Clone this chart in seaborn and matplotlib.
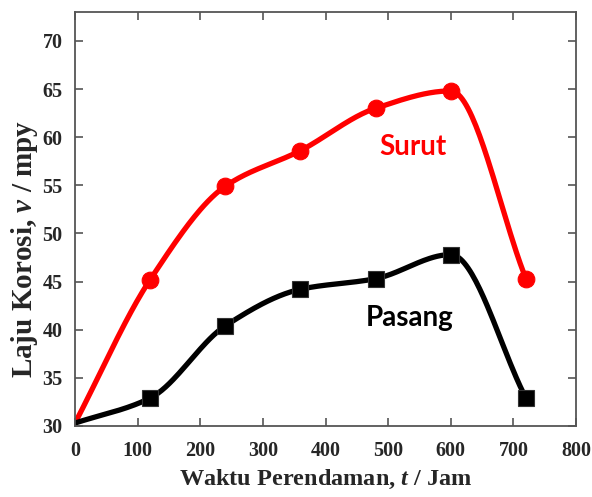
import numpy as np
import pandas as pd
import seaborn as sns
import matplotlib.pyplot as plt
from matplotlib.ticker import MultipleLocator

# Data
waktu = [0, 120, 240, 360, 480, 600, 720]
surut = [30.3, 45.2, 54.9, 58.6, 63.0, 64.8, 45.3]
pasang = [30.3, 32.9, 40.4, 44.2, 45.3, 47.8, 32.9]


# Kurva halus (PCHIP / Fritsch-Carlson) melalui titik data
def smooth(x, y, n=40):
    x = np.asarray(x, float)
    y = np.asarray(y, float)
    h = np.diff(x)
    d = np.diff(y) / h
    m = np.zeros_like(y)
    for k in range(1, len(x) - 1):
        if d[k - 1] * d[k] > 0:
            w1 = 2 * h[k] + h[k - 1]
            w2 = h[k] + 2 * h[k - 1]
            m[k] = (w1 + w2) / (w1 / d[k - 1] + w2 / d[k])
    m[0] = d[0]
    m[-1] = d[-1]
    xs, ys = [], []
    t = np.linspace(0, 1, n)
    for k in range(len(x) - 1):
        h00 = 2 * t ** 3 - 3 * t ** 2 + 1
        h10 = t ** 3 - 2 * t ** 2 + t
        h01 = -2 * t ** 3 + 3 * t ** 2
        h11 = t ** 3 - t ** 2
        xs.extend(x[k] + t * h[k])
        ys.extend(h00 * y[k] + h10 * h[k] * m[k] + h01 * y[k + 1] + h11 * h[k] * m[k + 1])
    return np.array(xs), np.array(ys)


df = pd.DataFrame({'t': waktu, 'Surut': surut, 'Pasang': pasang})

sns.set_style('ticks')
plt.rcParams['font.family'] = ['Liberation Serif', 'DejaVu Serif']
plt.rcParams['mathtext.fontset'] = 'custom'
plt.rcParams['mathtext.it'] = 'Liberation Serif:italic:bold'
plt.rcParams['mathtext.rm'] = 'Liberation Serif:bold'

fig = plt.figure(figsize=(5.92, 4.97), dpi=100)
ax = fig.add_axes([0.1267, 0.1429, 0.8463, 0.833])

for col, warna, mk, ms in (('Surut', '#ff0000', 'o', 12), ('Pasang', '#000000', 's', 11)):
    sx, sy = smooth(df['t'], df[col])
    sns.lineplot(x=sx, y=sy, color=warna, lw=3.8, sort=False, ax=ax)
    # titik t = 0 tidak diberi penanda
    ax.plot(df['t'][1:], df[col][1:], ls='none', marker=mk, ms=ms, color=warna,
            mec=warna if col == 'Surut' else '#333333', mew=0.8, zorder=5)

ax.text(540, 59.0, 'Surut', color='#ff0000', fontsize=20, fontweight='bold',
        family='Lato', ha='center', va='center')
ax.text(535, 41.2, 'Pasang', color='black', fontsize=20, fontweight='bold',
        family='Lato', ha='center', va='center')

ax.set_xlim(0, 800)
ax.set_ylim(30, 73)
ax.xaxis.set_major_locator(MultipleLocator(100))
ax.yaxis.set_major_locator(MultipleLocator(5))
ax.tick_params(direction='in', top=True, right=True, length=6, width=1.2,
               color='#555555', labelsize=14.5)
ax.tick_params(axis='x', pad=11)
ax.tick_params(axis='y', pad=9)
for lab in ax.get_xticklabels() + ax.get_yticklabels():
    lab.set_fontweight('bold')
for s in ax.spines.values():
    s.set_color('#555555')
    s.set_linewidth(1.3)

ax.set_xlabel(r'Waktu Perendaman, $t$ / Jam', fontsize=17.5, fontweight='bold', labelpad=5)
ax.set_ylabel(r'Laju Korosi, $v$ / mpy', fontsize=21, fontweight='bold')
ax.yaxis.set_label_coords(-0.07, 0.4275)

fig.savefig('out.png', dpi=100)
